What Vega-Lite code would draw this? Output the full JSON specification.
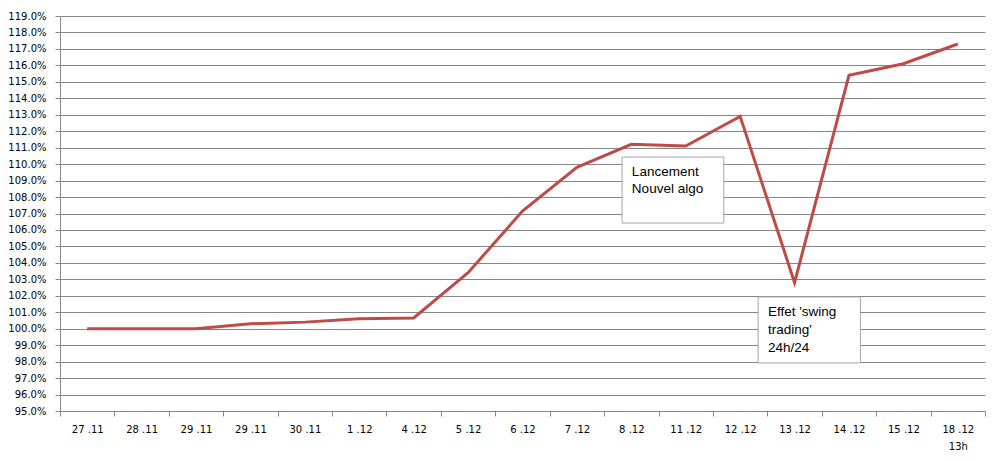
{
  "$schema": "https://vega.github.io/schema/vega-lite/v6.json",
  "autosize": {"type": "none"},
  "padding": {"left": 60, "top": 16, "right": 18, "bottom": 50},
  "width": 925,
  "height": 395,
  "background": "white",
  "config": {
    "view": {"stroke": null},
    "axis": {"labelFont": "DejaVu Sans", "labelFontSize": 10, "labelColor": "#000000"}
  },
  "datasets": {
    "series": [
      {"d": "27 .11", "v": 100.0},
      {"d": "28 .11", "v": 100.0},
      {"d": "29 .11", "v": 100.0},
      {"d": "29 .11 ", "v": 100.3},
      {"d": "30 .11", "v": 100.4},
      {"d": "1 .12", "v": 100.6},
      {"d": "4 .12", "v": 100.65},
      {"d": "5 .12", "v": 103.4},
      {"d": "6 .12", "v": 107.15},
      {"d": "7 .12", "v": 109.8},
      {"d": "8 .12", "v": 111.2},
      {"d": "11 .12", "v": 111.1},
      {"d": "12 .12", "v": 112.9},
      {"d": "13 .12", "v": 102.8},
      {"d": "14 .12", "v": 115.4},
      {"d": "15 .12", "v": 116.1},
      {"d": "18 .12", "v": 117.3}
    ],
    "boxes": [
      {"x1": 10.33, "x2": 12.2, "y1": 110.43, "y2": 106.42},
      {"x1": 12.83, "x2": 14.71, "y1": 101.93, "y2": 97.92}
    ],
    "notes": [
      {"x": 10.51, "y": 109.52, "t": "Lancement"},
      {"x": 10.51, "y": 108.49, "t": "Nouvel algo"},
      {"x": 13.01, "y": 101.02, "t": "Effet 'swing"},
      {"x": 13.01, "y": 99.92, "t": "trading'"},
      {"x": 13.01, "y": 98.83, "t": "24h/24"}
    ]
  },
  "resolve": {"scale": {"x": "independent"}},
  "layer": [
    {
      "data": {"name": "series"},
      "mark": {"type": "line", "color": "#BE4B48", "strokeWidth": 3, "strokeJoin": "miter"},
      "encoding": {
        "x": {
          "field": "d", "type": "nominal", "sort": null,
          "scale": {"type": "band", "paddingInner": 0, "paddingOuter": 0},
          "axis": {
            "title": null, "labelAngle": 0, "grid": false,
            "tickBand": "extent", "tickSize": 5, "tickColor": "#878787",
            "domainColor": "#878787", "labelPadding": 8, "labelLineHeight": 17,
            "labelOverlap": false,
            "labelExpr": "datum.value == '18 .12' ? ['18 .12', '13h'] : datum.value"
          }
        },
        "y": {
          "field": "v", "type": "quantitative",
          "scale": {"domain": [95, 119], "nice": false, "zero": false},
          "axis": {
            "title": null, "values": [95,96,97,98,99,100,101,102,103,104,105,106,107,108,109,110,111,112,113,114,115,116,117,118,119],
            "tickCount": 30,
            "labelExpr": "format(datum.value, '.1f') + '%'",
            "labelOverlap": false, "labelFlush": false,
            "grid": true, "gridColor": "#878787", "gridOpacity": 1,
            "tickSize": 5, "tickColor": "#878787", "domainColor": "#878787",
            "labelPadding": 9
          }
        }
      }
    },
    {
      "data": {"name": "boxes"},
      "mark": {"type": "rect", "fill": "white", "stroke": "#A6A6A6", "strokeWidth": 1},
      "encoding": {
        "x": {"field": "x1", "type": "quantitative", "scale": {"domain": [0, 17], "nice": false, "zero": false}, "axis": null},
        "x2": {"field": "x2"},
        "y": {"field": "y1", "type": "quantitative"},
        "y2": {"field": "y2"}
      }
    },
    {
      "data": {"name": "notes"},
      "mark": {"type": "text", "align": "left", "baseline": "middle", "font": "Liberation Sans", "fontSize": 13.5, "color": "#000000"},
      "encoding": {
        "x": {"field": "x", "type": "quantitative", "scale": {"domain": [0, 17], "nice": false, "zero": false}, "axis": null},
        "y": {"field": "y", "type": "quantitative"},
        "text": {"field": "t"}
      }
    }
  ]
}
